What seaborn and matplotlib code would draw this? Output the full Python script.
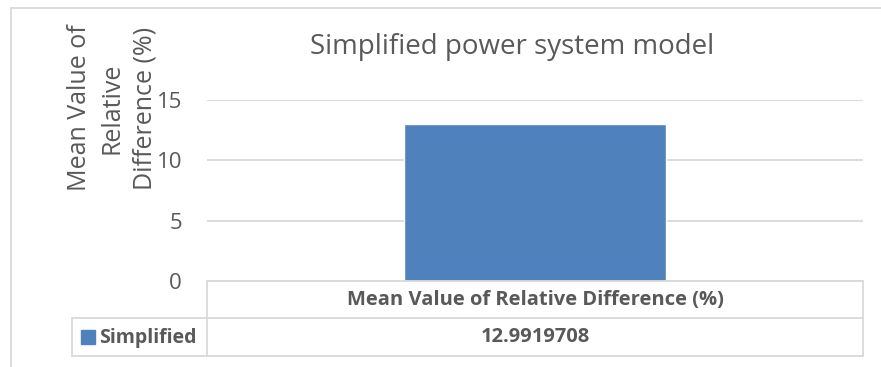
import matplotlib
matplotlib.use("Agg")
import matplotlib.pyplot as plt
from matplotlib.lines import Line2D
from matplotlib.patches import Rectangle
import pandas as pd
import seaborn as sns

# Chart data
title = "Simplified power system model"
category = ["Mean Value of Relative Difference (%)"]
series_name = "Simplified"
values = [12.9919708]
value_labels = ["12.9919708"]
y_ticks = [0, 5, 10, 15]
y_label = "Mean Value of\nRelative\nDifference (%)"

BAR = "#4F81BD"
TXT = "#595959"
GRID = "#D9D9D9"

sns.set_theme(style="white")
plt.rcParams["font.family"] = ["Open Sans", "DejaVu Sans"]

W, H = 881, 367
fig = plt.figure(figsize=(W / 100, H / 100), dpi=100)


def fx(px):
    return px / W


def fy(py):
    return 1 - py / H


def hline(x0, x1, y, lw=1.3):
    fig.add_artist(Line2D([fx(x0), fx(x1)], [fy(y), fy(y)], color=GRID, lw=lw,
                          transform=fig.transFigure))


def vline(x, y0, y1, lw=1.3):
    fig.add_artist(Line2D([fx(x), fx(x)], [fy(y0), fy(y1)], color=GRID, lw=lw,
                          transform=fig.transFigure))


# plot area
ax = fig.add_axes([fx(207), fy(281), fx(863) - fx(207), fy(100) - fy(281)])
df = pd.DataFrame({"category": category, "value": values, "series": [series_name]})
sns.barplot(data=df, x="category", y="value", color=BAR, width=0.4,
            saturation=1, ax=ax)
ax.set_ylim(0, 15)
ax.set_xlim(-0.5, 0.5)
ax.set_yticks(y_ticks)
ax.set_yticklabels([str(t) for t in y_ticks], fontsize=16, color=TXT)
ax.tick_params(axis="y", length=0, pad=18)
ax.set_xticks([])
ax.set_xlabel("")
ax.set_ylabel("")
for s in ax.spines.values():
    s.set_visible(False)
ax.yaxis.grid(True, color=GRID, lw=1.3)
ax.set_axisbelow(True)
ax.patch.set_alpha(0)

# chart title and axis title
fig.text(fx(512), fy(47), title, ha="center", va="center", fontsize=20, color=TXT)
fig.text(fx(112), fy(108), y_label, ha="center", va="center", rotation=90,
         fontsize=18, color=TXT, linespacing=1.4, multialignment="center")

# outer chart border
hline(11, 881, 8)
vline(11, 8, 367)

# data table beneath the plot
vline(207, 281, 356)
vline(863, 281, 356)
hline(72, 863, 318)
hline(72, 863, 356)
vline(72, 318, 356)
hline(207, 863, 281)

fig.text(fx(535), fy(299.5), category[0], ha="center", va="center",
         fontsize=14.5, fontweight="bold", color=TXT)
fig.text(fx(535), fy(337.5), value_labels[0], ha="center", va="center",
         fontsize=14.5, fontweight="bold", color=TXT)
fig.add_artist(Rectangle((fx(81), fy(344)), fx(95) - fx(81), fy(330) - fy(344),
                         color=BAR, transform=fig.transFigure))
fig.text(fx(99), fy(337.5), series_name, ha="left", va="center",
         fontsize=14, fontweight="bold", color=TXT)

fig.savefig("out.png", dpi=100)
